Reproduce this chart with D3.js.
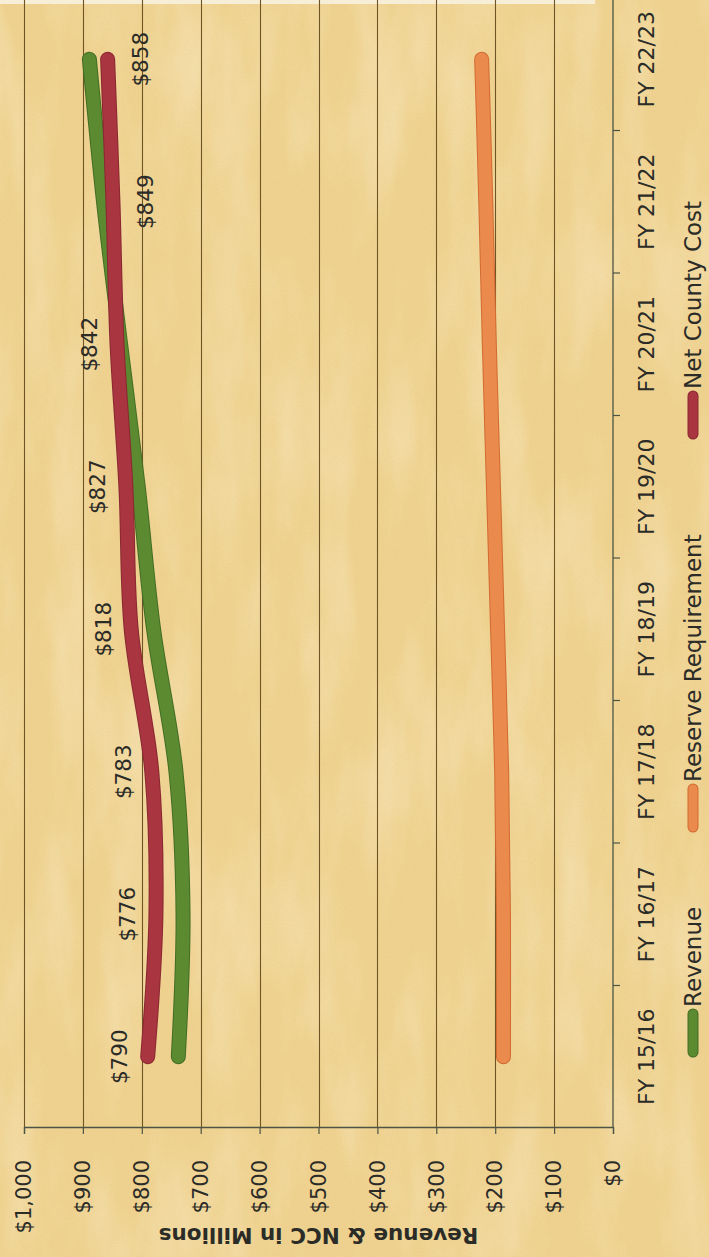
<!DOCTYPE html>
<html>
<head>
<meta charset="utf-8">
<script src="https://cdn.jsdelivr.net/npm/d3@7"></script>
<style>
  html, body { margin: 0; padding: 0; background: #efd393; }
  svg { display: block; }
</style>
</head>
<body>
<svg id="chart" width="709" height="1257"></svg>
<script>
// Fiscal years and series values ($ millions)
const categories = ["FY 15/16", "FY 16/17", "FY 17/18", "FY 18/19", "FY 19/20", "FY 20/21", "FY 21/22", "FY 22/23"];
const revenue = [738, 730, 742, 780, 806, 836, 865, 889];
const reserveRequirement = [186, 186, 189, 196, 203, 210, 216, 223];
const netCountyCost = [790, 776, 783, 818, 827, 842, 849, 858];
const valueTicks = [0, 100, 200, 300, 400, 500, 600, 700, 800, 900, 1000];
const seriesNames = ["Revenue", "Reserve Requirement", "Net County Cost"];

const W = 1257, H = 709;          // chart drawn lying on its side
const FONT = "'DejaVu Sans', sans-serif";
const TEXT = "#2b2b28";

const svg = d3.select("#chart");

// paper texture
const defs = svg.append("defs");
const paper = defs.append("filter").attr("id", "paper")
  .attr("x", 0).attr("y", 0).attr("width", "100%").attr("height", "100%");
paper.append("feTurbulence").attr("type", "fractalNoise")
  .attr("baseFrequency", "0.02 0.006").attr("numOctaves", 4).attr("seed", 7);
paper.append("feColorMatrix").attr("type", "matrix")
  .attr("values", "0 0 0 0 1  0 0 0 0 0.95  0 0 0 0 0.78  0 0 0 -1.4 0.85");
const grain = defs.append("filter").attr("id", "grain")
  .attr("x", 0).attr("y", 0).attr("width", "100%").attr("height", "100%");
grain.append("feTurbulence").attr("type", "fractalNoise")
  .attr("baseFrequency", "0.9").attr("numOctaves", 2).attr("seed", 3);
grain.append("feColorMatrix").attr("type", "matrix")
  .attr("values", "0 0 0 0 0.55  0 0 0 0 0.4  0 0 0 0 0.15  0 0 0 -0.9 0.55");

svg.append("rect").attr("width", 709).attr("height", 1257).attr("fill", "#efd28f");
svg.append("rect").attr("width", 709).attr("height", 1257).attr("filter", "url(#paper)").attr("opacity", 0.45);
svg.append("rect").attr("width", 709).attr("height", 1257).attr("filter", "url(#grain)").attr("opacity", 0.25);
svg.append("rect").attr("width", 595).attr("height", 4).attr("fill", "#f6eed6");

// everything else is laid out in chart space, then turned a quarter turn
const g = svg.append("g").attr("transform", `translate(0,${W}) rotate(-90)`);

const x = d3.scaleBand().domain(categories).range([129, 1269]).padding(0);
const y = d3.scaleLinear().domain([0, 1000]).range([613, 24]);

// horizontal gridlines
g.append("g").selectAll("line").data(valueTicks.filter(v => v > 0)).join("line")
  .attr("x1", x.range()[0]).attr("x2", x.range()[1])
  .attr("y1", d => Math.round(y(d)) + 0.5).attr("y2", d => Math.round(y(d)) + 0.5)
  .attr("stroke", "#6f5426").attr("stroke-width", 1.1);

// value axis
const yAxis = d3.axisLeft(y).tickValues(valueTicks).tickSize(6).tickPadding(26)
  .tickFormat(d3.format("$,"));
const ya = g.append("g").attr("transform", `translate(${x.range()[0]},0)`).call(yAxis);
ya.select(".domain").attr("stroke", "#4c5545").attr("stroke-width", 1.3);
ya.selectAll(".tick line").attr("stroke", "#4c5545").attr("stroke-width", 1.2);
ya.selectAll(".tick text").attr("font-family", FONT).attr("font-size", 21).attr("fill", TEXT);

// category axis: ticks sit on the band boundaries
const xa = g.append("g").attr("transform", `translate(0,${y(0)})`);
xa.append("line").attr("x1", x.range()[0]).attr("x2", x.range()[1])
  .attr("stroke", "#4c5545").attr("stroke-width", 1.3);
xa.selectAll("line.tk").data(categories.slice(1)).join("line").attr("class", "tk")
  .attr("x1", d => x(d)).attr("x2", d => x(d)).attr("y1", 0).attr("y2", 7)
  .attr("stroke", "#4c5545").attr("stroke-width", 1.2);
xa.selectAll("text").data(categories).join("text")
  .attr("x", d => x(d) + x.bandwidth() / 2).attr("y", 33)
  .attr("text-anchor", "middle").attr("dominant-baseline", "central")
  .attr("font-family", FONT).attr("font-size", 22).attr("fill", TEXT)
  .text(d => d);

// axis title
g.append("text")
  .attr("transform", `translate(22,${(y(0) + y(1000)) / 2}) rotate(-90)`)
  .attr("text-anchor", "middle").attr("dominant-baseline", "central")
  .attr("font-family", FONT).attr("font-weight", "bold").attr("font-size", 21.5)
  .attr("fill", TEXT).text("Revenue & NCC in Millions");

// series lines
const series = [
  { name: seriesNames[0], values: revenue, color: "#5b8a30", edge: "#426d24" },
  { name: seriesNames[1], values: reserveRequirement, color: "#ea8a4d", edge: "#d26a32" },
  { name: seriesNames[2], values: netCountyCost, color: "#a8353f", edge: "#8a2832" }
];
const line = d3.line()
  .x((d, i) => x(categories[i]) + x.bandwidth() / 2)
  .y(d => y(d))
  .curve(d3.curveCatmullRom.alpha(0.5));

const lines = g.append("g");
series.forEach(s => {
  lines.append("path").attr("d", line(s.values)).attr("fill", "none")
    .attr("stroke", s.edge).attr("stroke-width", 15).attr("stroke-linecap", "round").attr("stroke-linejoin", "round");
  lines.append("path").attr("d", line(s.values)).attr("fill", "none")
    .attr("stroke", s.color).attr("stroke-width", 13).attr("stroke-linecap", "round").attr("stroke-linejoin", "round");
});

// Net County Cost labels: above the line unless Revenue runs above it there
g.append("g").selectAll("text").data(netCountyCost).join("text")
  .attr("x", (d, i) => x(categories[i]) + x.bandwidth() / 2)
  .attr("y", (d, i) => revenue[i] > d ? y(d) + 33 : y(d) - 28)
  .attr("text-anchor", "middle").attr("dominant-baseline", "central")
  .attr("font-family", FONT).attr("font-size", 21.5).attr("fill", TEXT)
  .text(d => d3.format("$,")(d));

// legend
const legendStarts = [200, 425, 818];
const legend = g.append("g").attr("transform", "translate(0,693)");
series.forEach((s, i) => {
  const it = legend.append("g").attr("transform", `translate(${legendStarts[i]},0)`);
  it.append("line").attr("x1", 5).attr("x2", 43).attr("y1", 0).attr("y2", 0)
    .attr("stroke", s.edge).attr("stroke-width", 11).attr("stroke-linecap", "round");
  it.append("line").attr("x1", 5).attr("x2", 43).attr("y1", 0).attr("y2", 0)
    .attr("stroke", s.color).attr("stroke-width", 9).attr("stroke-linecap", "round");
  it.append("text").attr("x", 50).attr("y", 0).attr("dominant-baseline", "central")
    .attr("font-family", FONT).attr("font-size", 23).attr("fill", TEXT).text(s.name);
});
</script>
</body>
</html>
